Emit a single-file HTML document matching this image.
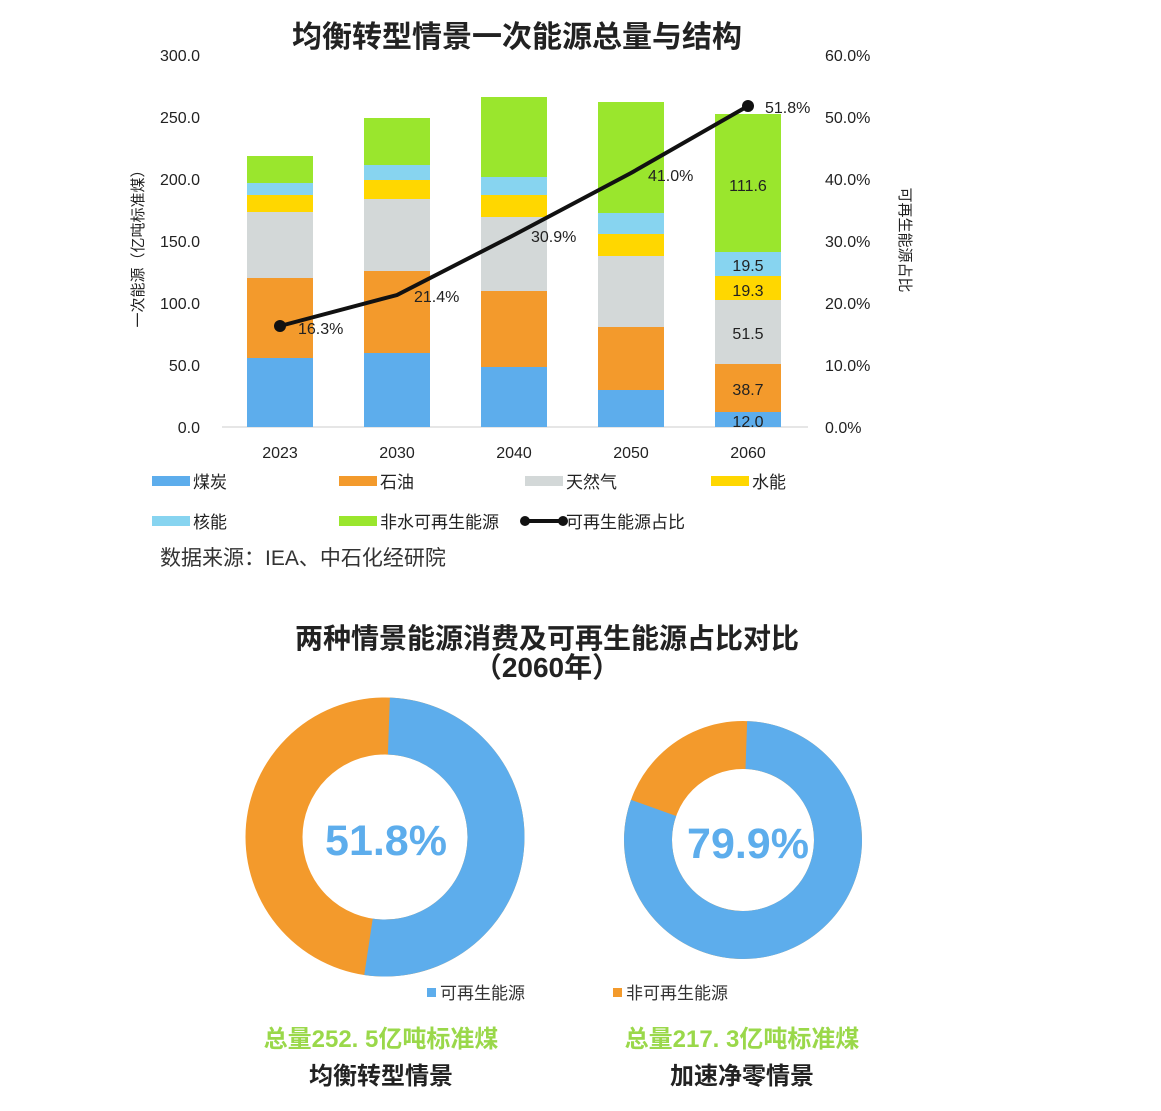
<!DOCTYPE html>
<html><head><meta charset="utf-8"><style>
body{margin:0;background:#fff;width:1161px;height:1111px;overflow:hidden}
svg{display:block}
text{font-family:"Liberation Sans","Noto Sans CJK SC",sans-serif}
</style></head><body>
<svg width="1161" height="1111" viewBox="0 0 1161 1111">
<text x="517" y="47" text-anchor="middle" font-size="30" font-weight="bold" fill="#222">均衡转型情景一次能源总量与结构</text>
<g font-size="16" fill="#222" text-anchor="end">
<text x="200" y="61">300.0</text><text x="200" y="123">250.0</text><text x="200" y="185">200.0</text><text x="200" y="247">150.0</text><text x="200" y="309">100.0</text><text x="200" y="371">50.0</text><text x="200" y="433">0.0</text>
</g>
<g font-size="16" fill="#222">
<text x="825" y="61">60.0%</text><text x="825" y="123">50.0%</text><text x="825" y="185">40.0%</text><text x="825" y="247">30.0%</text><text x="825" y="309">20.0%</text><text x="825" y="371">10.0%</text><text x="825" y="433">0.0%</text>
</g>
<text transform="translate(143,245) rotate(-90)" text-anchor="middle" font-size="15" fill="#222">一次能源（亿吨标准煤）</text>
<text transform="translate(900,240) rotate(90)" text-anchor="middle" font-size="15" fill="#222">可再生能源占比</text>
<line x1="222" y1="427" x2="808" y2="427" stroke="#ccc"/>
<g>
<rect x="247" y="358" width="66" height="69" fill="#5DADEC"/><rect x="247" y="278" width="66" height="80" fill="#F39A2C"/><rect x="247" y="212" width="66" height="66" fill="#D3D8D8"/><rect x="247" y="195" width="66" height="17" fill="#FFD700"/><rect x="247" y="183" width="66" height="12" fill="#87D4F0"/><rect x="247" y="156" width="66" height="27" fill="#9AE62D"/>
<rect x="364" y="353" width="66" height="74" fill="#5DADEC"/><rect x="364" y="271" width="66" height="82" fill="#F39A2C"/><rect x="364" y="199" width="66" height="72" fill="#D3D8D8"/><rect x="364" y="180" width="66" height="19" fill="#FFD700"/><rect x="364" y="165" width="66" height="15" fill="#87D4F0"/><rect x="364" y="118" width="66" height="47" fill="#9AE62D"/>
<rect x="481" y="367" width="66" height="60" fill="#5DADEC"/><rect x="481" y="291" width="66" height="76" fill="#F39A2C"/><rect x="481" y="217" width="66" height="74" fill="#D3D8D8"/><rect x="481" y="195" width="66" height="22" fill="#FFD700"/><rect x="481" y="177" width="66" height="18" fill="#87D4F0"/><rect x="481" y="97" width="66" height="80" fill="#9AE62D"/>
<rect x="598" y="390" width="66" height="37" fill="#5DADEC"/><rect x="598" y="327" width="66" height="63" fill="#F39A2C"/><rect x="598" y="256" width="66" height="71" fill="#D3D8D8"/><rect x="598" y="234" width="66" height="22" fill="#FFD700"/><rect x="598" y="213" width="66" height="21" fill="#87D4F0"/><rect x="598" y="102" width="66" height="111" fill="#9AE62D"/>
<rect x="715" y="412" width="66" height="15" fill="#5DADEC"/><rect x="715" y="364" width="66" height="48" fill="#F39A2C"/><rect x="715" y="300" width="66" height="64" fill="#D3D8D8"/><rect x="715" y="276" width="66" height="24" fill="#FFD700"/><rect x="715" y="252" width="66" height="24" fill="#87D4F0"/><rect x="715" y="114" width="66" height="138" fill="#9AE62D"/>
</g>
<g font-size="16" fill="#222" text-anchor="middle">
<text x="748" y="191">111.6</text><text x="748" y="271">19.5</text><text x="748" y="296">19.3</text><text x="748" y="339">51.5</text><text x="748" y="395">38.7</text><text x="748" y="427">12.0</text>
</g>
<polyline points="280,326 397,295 514,235 631,173 748,106" fill="none" stroke="#111" stroke-width="4"/>
<circle cx="280" cy="326" r="6" fill="#111"/><circle cx="748" cy="106" r="6" fill="#111"/>
<g font-size="16" fill="#222">
<text x="298" y="334">16.3%</text><text x="414" y="302">21.4%</text><text x="531" y="242">30.9%</text><text x="648" y="181">41.0%</text><text x="765" y="113">51.8%</text>
</g>
<g font-size="16" fill="#222" text-anchor="middle">
<text x="280" y="458">2023</text><text x="397" y="458">2030</text><text x="514" y="458">2040</text><text x="631" y="458">2050</text><text x="748" y="458">2060</text>
</g>
<g font-size="17" fill="#222">
<rect x="152" y="476" width="38" height="10" fill="#5DADEC"/><text x="193" y="488">煤炭</text>
<rect x="339" y="476" width="38" height="10" fill="#F39A2C"/><text x="380" y="488">石油</text>
<rect x="525" y="476" width="38" height="10" fill="#D3D8D8"/><text x="566" y="488">天然气</text>
<rect x="711" y="476" width="38" height="10" fill="#FFD700"/><text x="752" y="488">水能</text>
<rect x="152" y="516" width="38" height="10" fill="#87D4F0"/><text x="193" y="528">核能</text>
<rect x="339" y="516" width="38" height="10" fill="#9AE62D"/><text x="380" y="528">非水可再生能源</text>
<line x1="525" y1="521" x2="563" y2="521" stroke="#111" stroke-width="4"/><circle cx="525" cy="521" r="5" fill="#111"/><circle cx="563" cy="521" r="5" fill="#111"/><text x="566" y="528">可再生能源占比</text>
</g>
<text x="160" y="565" font-size="21" fill="#333">数据来源：IEA、中石化经研院</text>

<text x="547" y="648" text-anchor="middle" font-size="28" font-weight="bold" fill="#222">两种情景能源消费及可再生能源占比对比</text>
<text x="547" y="677" text-anchor="middle" font-size="28" font-weight="bold" fill="#222">（2060年）</text>

<circle cx="385" cy="837" r="111" fill="none" stroke="#F39A2C" stroke-width="57"/>
<circle cx="385" cy="837" r="111" fill="none" stroke="#5DADEC" stroke-width="57" stroke-dasharray="361.3 1000" transform="rotate(-88 385 837)"/>
<text x="386" y="855" text-anchor="middle" font-size="43" font-weight="bold" fill="#5DADEC">51.8%</text>
<circle cx="743" cy="840" r="95" fill="none" stroke="#F39A2C" stroke-width="48"/>
<circle cx="743" cy="840" r="95" fill="none" stroke="#5DADEC" stroke-width="48" stroke-dasharray="476.9 1000" transform="rotate(-88 743 840)"/>
<text x="748" y="858" text-anchor="middle" font-size="43" font-weight="bold" fill="#5DADEC">79.9%</text>

<g font-size="17" fill="#333">
<rect x="427" y="988" width="9" height="9" fill="#5DADEC"/><text x="440" y="999">可再生能源</text>
<rect x="613" y="988" width="9" height="9" fill="#F39A2C"/><text x="626" y="999">非可再生能源</text>
</g>
<g font-size="24" text-anchor="middle" font-weight="bold">
<text x="381" y="1047" fill="#9AD84A">总量252. 5亿吨标准煤</text>
<text x="742" y="1047" fill="#9AD84A">总量217. 3亿吨标准煤</text>
<text x="381" y="1084" fill="#222">均衡转型情景</text>
<text x="742" y="1084" fill="#222">加速净零情景</text>
</g>
</svg>
</body></html>
